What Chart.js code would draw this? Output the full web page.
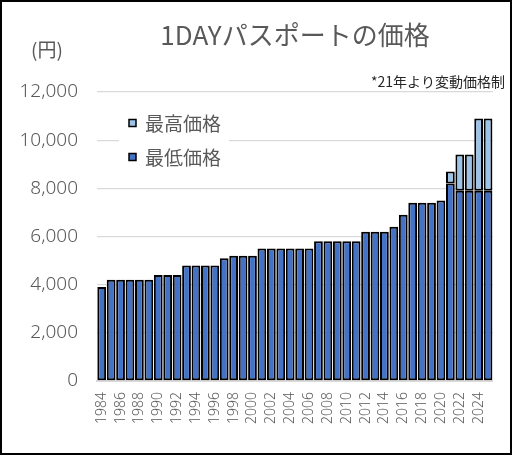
<!DOCTYPE html>
<html><head><meta charset="utf-8">
<script src="https://cdn.jsdelivr.net/npm/chart.js@4.4.1/dist/chart.umd.min.js"></script>
<style>html,body{margin:0;padding:0;background:#fff;} #wrap{position:relative;width:516px;height:456px;}</style>
</head><body><div id="wrap"><canvas id="c" width="516" height="456"></canvas></div>
<script>
const years = ['1984','1985','1986','1987','1988','1989','1990','1991','1992','1993','1994','1995','1996','1997','1998','1999','2000','2001','2002','2003','2004','2005','2006','2007','2008','2009','2010','2011','2012','2013','2014','2015','2016','2017','2018','2019','2020','2021','2022','2023','2024','2025'];
const lowPrice = [3900,4200,4200,4200,4200,4200,4400,4400,4400,4800,4800,4800,4800,5100,5200,5200,5200,5500,5500,5500,5500,5500,5500,5800,5800,5800,5800,5800,6200,6200,6200,6400,6900,7400,7400,7400,7500,8200,7900,7900,7900,7900];
const highPrice = [null,null,null,null,null,null,null,null,null,null,null,null,null,null,null,null,null,null,null,null,null,null,null,null,null,null,null,null,null,null,null,null,null,null,null,null,null,8700,9400,9400,10900,10900];
const yTicks = [0,2000,4000,6000,8000,10000,12000];
const seriesNames = ['最低価格','最高価格'];
const titleText = '1DAYパスポートの価格';
const unitText = '(円)';
const noteText = '*21年より変動価格制';

const highRange = highPrice.map((h,i)=> h==null ? null : [lowPrice[i], h]);

const deco = {
  id:'deco',
  beforeDraw(chart){
    const ctx = chart.ctx;
    ctx.save(); ctx.fillStyle='#fff'; ctx.fillRect(0,0,chart.width,chart.height); ctx.restore();
  },
  afterDraw(chart){
    const ctx = chart.ctx;
    ctx.save();
    ctx.fillStyle='#fff';
    ctx.fillRect(119,102,110,74);
    const items = [chart.data.datasets[1], chart.data.datasets[0]];
    const ys = [123, 157];
    items.forEach((ds,i)=>{
      ctx.fillStyle = ds.backgroundColor;
      ctx.fillRect(129, ys[i]-3.5, 7, 7);
      ctx.strokeStyle='#000'; ctx.lineWidth=1.5;
      ctx.strokeRect(129, ys[i]-3.5, 7, 7);
      ctx.fillStyle='#595959';
      ctx.font='19px "Noto Sans CJK JP"';
      ctx.textAlign='left'; ctx.textBaseline='middle';
      ctx.fillText(ds.label, 145, ys[i]+1);
    });
    ctx.fillStyle='#595959';
    ctx.font='26px "Noto Sans CJK JP"';
    ctx.textAlign='center'; ctx.textBaseline='middle';
    ctx.fillText(titleText, 295, 35);
    ctx.font='19px "Noto Sans CJK JP"';
    ctx.fillText(unitText, 47, 50);
    ctx.fillStyle='#262626';
    ctx.font='14px "Noto Sans CJK JP"';
    ctx.textAlign='right';
    ctx.fillText(noteText, 505, 82);
    ctx.strokeStyle='#000'; ctx.lineWidth=2;
    ctx.strokeRect(1,1,510,453);
    ctx.restore();
  }
};

new Chart(document.getElementById('c'), {
  type:'bar',
  data:{
    labels: years,
    datasets:[
      {label: seriesNames[0], data: lowPrice, backgroundColor:'#4472c4', borderColor:'#000', borderWidth:2, barPercentage:0.93, categoryPercentage:1, borderSkipped:false},
      {label: seriesNames[1], data: highRange, backgroundColor:'#9dc3e6', borderColor:'#000', borderWidth:2, barPercentage:0.93, categoryPercentage:1, borderSkipped:false}
    ]
  },
  options:{
    responsive:false, animation:false, devicePixelRatio:1,
    layout:{padding:{left:0,right:11,top:92,bottom:0}},
    plugins:{legend:{display:false}, tooltip:{enabled:false}, title:{display:false}},
    scales:{
      x:{
        stacked:true,
        grid:{display:false, drawTicks:false},
        border:{display:true, color:'#d9d9d9', width:2},
        ticks:{autoSkip:false, minRotation:90, maxRotation:90, padding:11, color:'#595959',
          font:{family:'Noto Sans', size:14, weight:'300'},
          callback:(v,i)=> i%2===0 ? years[i] : ''},
        afterFit:(s)=>{ s.height = 75; }
      },
      y:{
        stacked:false, min:0, max:12000,
        afterBuildTicks:(s)=>{ s.ticks = yTicks.map(v=>({value:v})); },
        grid:{color:'#d9d9d9', lineWidth:1.3, drawTicks:false},
        border:{display:false},
        ticks:{padding:19, color:'#595959', font:{family:'Noto Sans', size:19, weight:'300'},
          callback:(v)=> Number(v).toLocaleString('en-US')},
        afterFit:(s)=>{ s.width = 97; }
      }
    }
  },
  plugins:[deco]
});
</script></body></html>
